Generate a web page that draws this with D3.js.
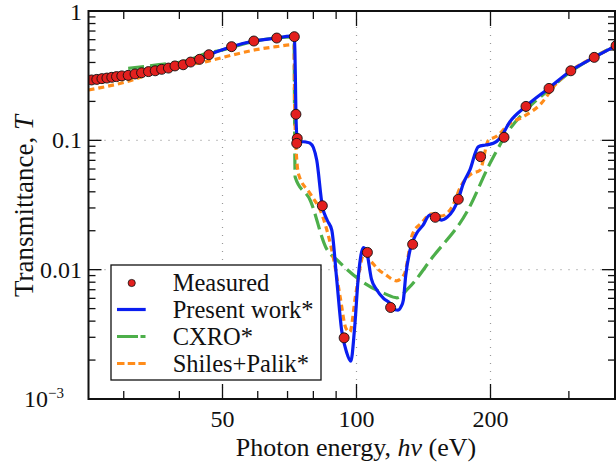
<!DOCTYPE html>
<html><head><meta charset="utf-8">
<script src="https://cdn.jsdelivr.net/npm/d3@7"></script>
<style>body{margin:0;background:#fff}svg{display:block}svg text{font-family:"Times New Roman","Liberation Serif",Tinos,serif;fill:#111}</style>
</head><body><svg id="c" width="616" height="471" font-family="Liberation Serif"></svg>
<script>
const measuredE=[25.4,26.1,26.8,27.5,28.2,28.9,29.7,30.7,31.8,32.9,34.1,35.3,36.5,37.8,39.1,40.8,42.4,44.4,46.6,52.4,58.8,66.2,72.5,73.1,73.6,73.4,83.8,93.8,105.8,119.3,133.7,150.3,169.3,190,214.5,240.3,270.7,303,342,383];
const measuredT=[0.293,0.296,0.300,0.303,0.307,0.311,0.315,0.318,0.326,0.333,0.340,0.345,0.354,0.362,0.376,0.384,0.403,0.423,0.459,0.530,0.586,0.618,0.633,0.159,0.1035,0.0948,0.0312,0.00297,0.0136,0.0051,0.0157,0.0254,0.035,0.0747,0.1055,0.183,0.252,0.345,0.438,0.539];
const presentE=[25,28.9,32.9,36.5,40.8,44.4,46.6,52.4,58.8,66.2,71,72.5,72.9,73.1,73.6,75,77,78.6,80,81.4,83.8,86,88,90.3,92.6,95,97.1,99,101,103.7,105.5,108,111,115,119,122,124,126,127.4,129,131.9,136.5,141,146,150,155.4,160,165,169.3,173.8,179.8,187.8,195,203,210,221,240,270,303,342,383];
const presentT=[0.29,0.311,0.333,0.354,0.384,0.423,0.459,0.53,0.586,0.618,0.64,0.635,0.3,0.16,0.103,0.098,0.097,0.095,0.088,0.0704,0.031,0.024,0.0202,0.0083,0.0034,0.0023,0.00196,0.0035,0.009,0.0148,0.0135,0.0085,0.007,0.006,0.0055,0.0049,0.00487,0.0052,0.0058,0.009,0.0142,0.0191,0.022,0.0264,0.0258,0.0242,0.0255,0.0289,0.035,0.0465,0.059,0.0893,0.092,0.0948,0.1035,0.139,0.183,0.252,0.345,0.438,0.539];
const cxroE=[30.7,36,42,46,50,55,60,66,72.4,72.6,72.8,78.8,85.4,90.9,102.6,116,123.2,131,148,177.7,199.5,204.8,217.5,240,270,303,342,383];
const cxroT=[0.36,0.385,0.417,0.47,0.50,0.55,0.59,0.62,0.63,0.13,0.052,0.0341,0.0148,0.0117,0.00816,0.0065,0.00606,0.00722,0.0124,0.0286,0.0664,0.0787,0.113,0.17,0.245,0.34,0.44,0.54];
const shilesE=[25,30,36.4,40,46.5,52.7,60,66,72.4,72.6,73,74.1,78.8,83.7,89,92,94.6,96.6,99.6,104,108,112,115.9,123,128,133.6,140,147.5,155,163.8,172,181,189.5,197.8,206,221,236.7,260,280,303,342,383];
const shilesT=[0.245,0.28,0.345,0.37,0.41,0.457,0.505,0.53,0.55,0.2,0.1,0.0548,0.0384,0.0266,0.0117,0.006,0.00355,0.0033,0.00644,0.0132,0.0115,0.01,0.0092,0.0082,0.0092,0.0188,0.023,0.027,0.026,0.0304,0.045,0.0549,0.0588,0.1,0.107,0.135,0.152,0.193,0.27,0.345,0.44,0.54];
const xTicks=[50,100,200];
const xMinor=[30,40,60,70,80,90,300];
const yTicks=[1,0.1,0.01,0.001];
const yTickLabels=["1","0.1","0.01","10"];
const legendNames=["Measured","Present work*","CXRO*","Shiles+Palik*"];

const svg=d3.select("#c");
const L=88.5,R=615,T=11,B=399;
const x=d3.scaleLog().domain([25,25*Math.pow(2,(R-L)/134)]).range([L,R]);
const y=d3.scaleLog().domain([0.001,1]).range([B,T]);
svg.append("clipPath").attr("id","cp").append("rect").attr("x",L).attr("y",T).attr("width",R-L).attr("height",B-T);

const g=svg.append("g");
xTicks.forEach(v=>g.append("line").attr("x1",x(v)).attr("x2",x(v)).attr("y1",T).attr("y2",B).attr("stroke","#999").attr("stroke-width",1.2).attr("stroke-dasharray","1,7"));
[0.1,0.01].forEach(v=>g.append("line").attr("x1",L).attr("x2",R).attr("y1",y(v)).attr("y2",y(v)).attr("stroke","#999").attr("stroke-width",1.2).attr("stroke-dasharray","1,7"));

const tk=svg.append("g").attr("stroke","#111").attr("stroke-width",1.3);
xTicks.forEach(v=>{tk.append("line").attr("x1",x(v)).attr("x2",x(v)).attr("y1",B).attr("y2",B-15);tk.append("line").attr("x1",x(v)).attr("x2",x(v)).attr("y1",T).attr("y2",T+15);});
xMinor.forEach(v=>{tk.append("line").attr("x1",x(v)).attr("x2",x(v)).attr("y1",B).attr("y2",B-8);tk.append("line").attr("x1",x(v)).attr("x2",x(v)).attr("y1",T).attr("y2",T+8);});
yTicks.forEach(v=>{tk.append("line").attr("x1",L).attr("x2",L+13).attr("y1",y(v)).attr("y2",y(v));tk.append("line").attr("x1",R).attr("x2",R-13).attr("y1",y(v)).attr("y2",y(v));});
[0.001,0.01,0.1].forEach(d=>{for(let k=2;k<=9;k++){const v=d*k;tk.append("line").attr("x1",L).attr("x2",L+7).attr("y1",y(v)).attr("y2",y(v));tk.append("line").attr("x1",R).attr("x2",R-7).attr("y1",y(v)).attr("y2",y(v));}});

const line=d3.line().x(d=>x(d[0])).y(d=>y(d[1])).curve(d3.curveMonotoneX);
const pl=svg.append("g").attr("clip-path","url(#cp)");
const zip=(a,b)=>a.map((v,i)=>[v,b[i]]);
pl.append("path").datum(zip(cxroE,cxroT)).attr("d",line).attr("fill","none").attr("stroke","#4daf4a").attr("stroke-width",3.2).attr("stroke-dasharray","16,6");
pl.append("path").datum(zip(shilesE,shilesT)).attr("d",line).attr("fill","none").attr("stroke","#ff8c1a").attr("stroke-width",3.2).attr("stroke-dasharray","6,4");
pl.append("path").datum(zip(presentE,presentT)).attr("d",line).attr("fill","none").attr("stroke","#0a1ef0").attr("stroke-width",3.2);
pl.selectAll("circle").data(zip(measuredE,measuredT)).enter().append("circle").attr("cx",d=>x(d[0])).attr("cy",d=>y(d[1])).attr("r",5).attr("fill","#e3201e").attr("stroke","#111").attr("stroke-width",0.9);

svg.append("rect").attr("x",L).attr("y",T).attr("width",R-L).attr("height",B-T).attr("fill","none").attr("stroke","#111").attr("stroke-width",2);

xTicks.forEach(v=>svg.append("text").attr("x",x(v)).attr("y",427).attr("text-anchor","middle").attr("font-size",24).text(v));
yTicks.forEach((v,i)=>{const t=svg.append("text").attr("x",82).attr("y",y(v)+(i==0?9:8)).attr("text-anchor","end").attr("font-size",24).text(yTickLabels[i]);
 if(i==3){t.attr("x",64);t.append("tspan").attr("dy",-9).attr("font-size",15).text("−3");}});
svg.append("text").attr("x",356).attr("y",456).attr("text-anchor","middle").attr("font-size",26).html('Photon energy, <tspan font-style="italic">hν</tspan> (eV)');
svg.append("text").attr("transform","translate(33,206) rotate(-90)").attr("text-anchor","middle").attr("font-size",27).html('Transmittance, <tspan font-style="italic">T</tspan>');

const lg=svg.append("g");
lg.append("rect").attr("x",111).attr("y",265).attr("width",210).attr("height",115).attr("fill","#fff").attr("stroke","#111").attr("stroke-width",1.3);
const ly=[283,309.5,336.5,363.5];
lg.append("circle").attr("cx",131.7).attr("cy",ly[0]).attr("r",3.6).attr("fill","#e3201e").attr("stroke","#111").attr("stroke-width",0.8);
lg.append("line").attr("x1",117).attr("x2",145.7).attr("y1",ly[1]).attr("y2",ly[1]).attr("stroke","#0a1ef0").attr("stroke-width",3.2);
lg.append("line").attr("x1",117).attr("x2",145.7).attr("y1",ly[2]).attr("y2",ly[2]).attr("stroke","#4daf4a").attr("stroke-width",3.2).attr("stroke-dasharray","21,2.5,5,30");
lg.append("line").attr("x1",117).attr("x2",145.7).attr("y1",ly[3]).attr("y2",ly[3]).attr("stroke","#ff8c1a").attr("stroke-width",3.2).attr("stroke-dasharray","7.5,3.2");
legendNames.forEach((n,i)=>lg.append("text").attr("x",172.7).attr("y",ly[i]+8).attr("font-size",24.5).text(n));
</script></body></html>
